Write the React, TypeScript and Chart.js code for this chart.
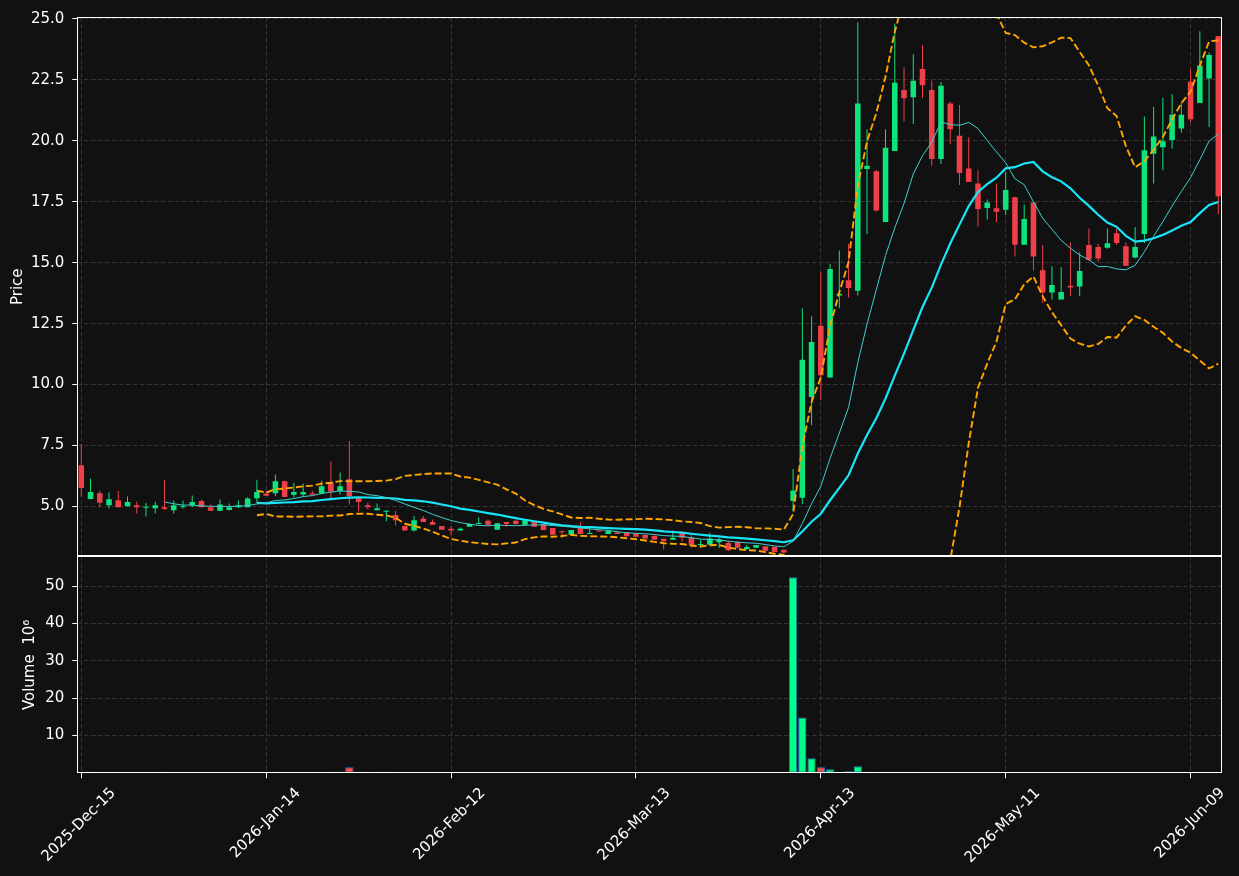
import { useEffect, useRef } from 'react';
import { Chart, registerables } from 'chart.js';

Chart.register(...registerables);

// ---------- data ----------
const HOLIDAYS = ['2025-12-25', '2026-01-01', '2026-01-19', '2026-02-16', '2026-04-03', '2026-05-25'];
const MONTHS = ['Jan', 'Feb', 'Mar', 'Apr', 'May', 'Jun', 'Jul', 'Aug', 'Sep', 'Oct', 'Nov', 'Dec'];
const START_DATE = '2025-12-15';
const N_DAYS = 124;

const opens = [
  6.69, 5.31, 5.54, 5.05, 5.26, 5.01, 5.05, 4.95, 4.93, 4.97,
  4.85, 4.97, 5.05, 5.22, 4.97, 4.82, 4.86, 4.97, 4.97, 5.34,
  5.52, 5.54, 6.03, 5.48, 5.49, 5.53, 5.54, 5.99, 5.63, 6.12,
  5.35, 5.05, 4.85, 4.78, 4.65, 4.20, 4.01, 4.51, 4.36, 4.20,
  4.09, 4.01, 4.17, 4.28, 4.41, 4.05, 4.36, 4.41, 4.25, 4.40,
  4.28, 4.12, 3.98, 3.84, 4.12, 3.87, 4.01, 3.87, 3.93, 3.95,
  3.87, 3.83, 3.79, 3.68, 3.63, 3.92, 3.72, 3.42, 3.43, 3.53,
  3.50, 3.54, 3.26, 3.31, 3.37, 3.35, 3.22, 5.22, 5.36, 9.49,
  12.41, 10.29, 13.66, 14.28, 13.85, 18.84, 18.75, 16.67, 19.58, 22.09,
  21.79, 22.95, 22.09, 19.25, 21.53, 20.21, 18.86, 18.25, 17.24, 17.23,
  17.17, 17.69, 15.74, 17.47, 14.69, 13.78, 13.49, 14.05, 14.02, 15.73,
  15.64, 15.61, 16.21, 15.68, 15.21, 16.18, 19.47, 19.74, 20.03, 20.51,
  22.42, 21.55, 22.56, 24.30,
];
const highs = [
  7.56, 6.14, 5.65, 5.57, 5.63, 5.41, 5.20, 5.14, 5.19, 6.10,
  5.24, 5.24, 5.45, 5.29, 5.08, 5.29, 5.12, 5.24, 5.38, 6.10,
  5.65, 6.31, 6.06, 5.97, 5.94, 5.65, 6.06, 6.84, 6.39, 7.69,
  5.35, 5.16, 5.12, 4.85, 4.81, 4.20, 4.61, 4.61, 4.47, 4.20,
  4.20, 4.14, 4.31, 4.56, 4.47, 4.31, 4.36, 4.47, 4.47, 4.40,
  4.28, 4.12, 4.01, 4.03, 4.36, 4.14, 4.01, 3.99, 4.01, 3.95,
  3.87, 3.83, 3.83, 3.68, 4.01, 3.92, 3.83, 3.64, 3.92, 3.71,
  3.58, 3.58, 3.42, 3.42, 3.37, 3.35, 3.22, 6.54, 13.13, 12.80,
  14.61, 14.95, 15.50, 15.78, 24.86, 20.48, 18.80, 20.48, 24.81, 23.02,
  23.55, 23.92, 22.48, 22.41, 21.60, 21.47, 20.15, 18.79, 17.59, 18.25,
  18.72, 17.70, 17.39, 17.47, 15.73, 14.85, 14.81, 15.83, 15.42, 16.40,
  15.78, 16.40, 16.40, 15.83, 16.46, 21.00, 21.40, 21.77, 21.92, 21.57,
  22.95, 24.50, 23.62, 24.30,
];
const lows = [
  5.41, 5.30, 4.97, 4.92, 4.97, 5.01, 4.71, 4.59, 4.71, 4.86,
  4.71, 4.92, 4.97, 4.97, 4.82, 4.80, 4.85, 4.95, 4.97, 5.14,
  5.44, 5.42, 5.39, 5.38, 5.42, 5.48, 5.49, 5.33, 5.49, 5.08,
  4.80, 4.88, 4.85, 4.39, 4.22, 4.01, 3.97, 4.36, 4.25, 4.05,
  3.82, 4.01, 4.17, 4.27, 4.20, 4.05, 4.17, 4.25, 4.20, 4.17,
  4.03, 3.84, 3.72, 3.84, 3.87, 3.87, 3.97, 3.87, 3.87, 3.78,
  3.76, 3.69, 3.63, 3.24, 3.63, 3.56, 3.33, 3.31, 3.41, 3.30,
  3.18, 3.28, 3.22, 3.31, 3.18, 3.13, 3.08, 4.80, 5.10, 8.33,
  9.36, 10.29, 13.13, 13.56, 13.66, 16.18, 17.10, 16.67, 19.58, 20.80,
  20.69, 21.76, 18.98, 19.05, 19.87, 18.19, 18.31, 16.49, 16.77, 16.67,
  16.97, 15.25, 15.74, 14.68, 13.35, 13.49, 13.49, 13.63, 13.63, 15.07,
  15.04, 15.57, 15.74, 14.88, 15.18, 15.81, 18.25, 18.79, 19.68, 20.33,
  20.76, 21.55, 20.57, 17.00,
];
const closes = [
  5.76, 5.59, 5.15, 5.30, 4.97, 5.18, 4.97, 4.97, 5.05, 4.90,
  5.05, 5.01, 5.18, 4.97, 4.82, 5.08, 4.97, 5.05, 5.33, 5.59,
  5.44, 6.03, 5.39, 5.59, 5.59, 5.48, 5.83, 5.61, 5.83, 5.42,
  5.18, 4.97, 4.93, 4.81, 4.43, 4.01, 4.44, 4.36, 4.25, 4.05,
  4.01, 4.09, 4.28, 4.32, 4.25, 4.31, 4.28, 4.28, 4.44, 4.17,
  4.03, 3.84, 3.94, 4.03, 3.87, 3.90, 3.97, 3.99, 3.87, 3.78,
  3.76, 3.69, 3.63, 3.57, 3.72, 3.72, 3.43, 3.45, 3.69, 3.65,
  3.20, 3.31, 3.34, 3.42, 3.18, 3.13, 3.11, 5.66, 11.02, 11.75,
  10.38, 14.74, 13.73, 13.96, 21.53, 18.98, 17.14, 19.72, 22.38, 21.75,
  22.46, 22.28, 19.25, 22.26, 20.47, 18.68, 18.31, 17.20, 17.47, 17.09,
  17.98, 15.74, 16.79, 15.25, 13.78, 14.09, 13.80, 13.98, 14.66, 15.12,
  15.17, 15.80, 15.81, 14.88, 15.64, 19.61, 20.18, 19.98, 21.07, 21.07,
  20.89, 23.09, 23.52, 17.73,
];
// volume in millions
const volumes = [
  0.3, 0.3, 0.03, 0.03, 0.03, 0.03, 0.03, 0.03, 0.03, 0.3,
  0.03, 0.03, 0.03, 0.03, 0.03, 0.03, 0.03, 0.03, 0.03, 0.03,
  0.03, 0.3, 0.03, 0.03, 0.03, 0.03, 0.03, 0.3, 0.3, 1.47,
  0.3, 0.03, 0.03, 0.3, 0.03, 0.03, 0.03, 0.03, 0.03, 0.03,
  0.03, 0.03, 0.03, 0.03, 0.03, 0.03, 0.03, 0.03, 0.03, 0.03,
  0.03, 0.03, 0.03, 0.03, 0.03, 0.03, 0.03, 0.03, 0.03, 0.03,
  0.03, 0.03, 0.03, 0.03, 0.03, 0.03, 0.03, 0.03, 0.03, 0.03,
  0.03, 0.03, 0.03, 0.03, 0.03, 0.03, 0.03, 52.4, 14.8, 3.87,
  1.47, 0.93, 0.3, 0.4, 1.73, 0.3, 0.03, 0.3, 0.3, 0.03,
  0.3, 0.03, 0.03, 0.03, 0.03, 0.03, 0.03, 0.03, 0.03, 0.03,
  0.03, 0.03, 0.03, 0.03, 0.03, 0.03, 0.03, 0.03, 0.03, 0.03,
  0.03, 0.03, 0.03, 0.03, 0.03, 0.03, 0.03, 0.03, 0.03, 0.03,
  0.03, 0.03, 0.03, 0.03,
];

const xTickIndices = [0, 20, 40, 60, 80, 100, 120];
const priceTicks = [5, 7.5, 10, 12.5, 15, 17.5, 20, 22.5, 25];
const volumeTicks = [10, 20, 30, 40, 50];

// ---------- helpers ----------
function buildDates(start: string, count: number): string[] {
  const hol = new Set(HOLIDAYS);
  const out: string[] = [];
  const d = new Date(start + 'T00:00:00Z');
  while (out.length < count) {
    const iso = d.toISOString().slice(0, 10);
    const wd = d.getUTCDay();
    if (wd !== 0 && wd !== 6 && !hol.has(iso)) {
      out.push(`${d.getUTCFullYear()}-${MONTHS[d.getUTCMonth()]}-${String(d.getUTCDate()).padStart(2, '0')}`);
    }
    d.setUTCDate(d.getUTCDate() + 1);
  }
  return out;
}

function movingAvg(vals: number[], p: number): (number | null)[] {
  return vals.map((_, i) => {
    if (i < p - 1) return null;
    let s = 0;
    for (let k = i - p + 1; k <= i; k++) s += vals[k];
    return s / p;
  });
}

function movingStd(vals: number[], p: number): (number | null)[] {
  return vals.map((_, i) => {
    if (i < p - 1) return null;
    let s = 0;
    for (let k = i - p + 1; k <= i; k++) s += vals[k];
    const m = s / p;
    let v = 0;
    for (let k = i - p + 1; k <= i; k++) v += (vals[k] - m) * (vals[k] - m);
    return Math.sqrt(v / (p - 1));
  });
}

const BG = '#111111';
const GRID = '#3c3c3c';
const TXT = '#ffffff';
const FONT = { family: 'DejaVu Sans', size: 15 };
const UP = '#0ee37c';
const DOWN = '#ee4049';
const VUP = '#00ff88';
const VDOWN = '#ff5050';

export default function App() {
  const ref = useRef<HTMLCanvasElement>(null);

  useEffect(() => {
    document.body.style.background = BG;
    const canvas = ref.current as HTMLCanvasElement;
    const dates = buildDates(START_DATE, N_DAYS);
    const idx = closes.map((_, i) => i);
    const isUp = idx.map((i) => closes[i] >= opens[i]);
    const candleCol = isUp.map((u) => (u ? UP : DOWN));
    const volCol = isUp.map((u) => (u ? VUP : VDOWN));
    const ma10 = movingAvg(closes, 10);
    const ma20 = movingAvg(closes, 20);
    const sd20 = movingStd(closes, 20);
    const bbUp = ma20.map((m, i) => (m === null ? null : m + 2 * (sd20[i] as number)));
    const bbLo = ma20.map((m, i) => (m === null ? null : m - 2 * (sd20[i] as number)));

    const pts = (arr: (number | null)[]) => idx.map((i) => ({ x: i, y: arr[i] }));

    const bgPlugin = {
      id: 'bg',
      beforeDraw(chart: any) {
        const c = chart.ctx;
        c.save();
        c.fillStyle = BG;
        c.fillRect(0, 0, chart.width, chart.height);
        c.restore();
      },
    };

    const panelClip = {
      id: 'panelClip',
      beforeDatasetDraw(chart: any, args: any) {
        const ys = chart.scales[args.meta.yAxisID];
        const xs = chart.scales.x;
        const c = chart.ctx;
        c.save();
        c.beginPath();
        c.rect(xs.left, ys.top, xs.right - xs.left, ys.bottom - ys.top);
        c.clip();
      },
      afterDatasetDraw(chart: any) {
        chart.ctx.restore();
      },
    };

    const frames = {
      id: 'frames',
      afterDraw(chart: any) {
        const c = chart.ctx;
        const xs = chart.scales.x;
        c.save();
        c.strokeStyle = '#ffffff';
        c.lineWidth = 1;
        ['y', 'yv'].forEach((id) => {
          const s = chart.scales[id];
          const l = Math.round(xs.left) + 0.5;
          const r = Math.round(xs.right) - 0.5;
          const t = Math.round(s.top) + 0.5;
          const b = Math.round(s.bottom) - 0.5;
          c.strokeRect(l, t, r - l, b - t);
        });
        c.restore();
      },
    };

    const lineCommon = { type: 'line', yAxisID: 'y', pointRadius: 0, tension: 0, order: 0 };

    const chart = new Chart(canvas, {
      type: 'bar',
      data: {
        datasets: [
          { ...lineCommon, label: 'MA10', data: pts(ma10), borderColor: '#3fcfcf', borderWidth: 1 },
          { ...lineCommon, label: 'MA20', data: pts(ma20), borderColor: '#16e6f8', borderWidth: 2.2 },
          { ...lineCommon, label: 'BB upper', data: pts(bbUp), borderColor: '#ffa500', borderWidth: 1.9, borderDash: [7, 3] },
          { ...lineCommon, label: 'BB lower', data: pts(bbLo), borderColor: '#ffa500', borderWidth: 1.9, borderDash: [7, 3] },
          {
            type: 'bar',
            label: 'body',
            data: idx.map((i) => ({ x: i, y: [opens[i], closes[i]] })),
            yAxisID: 'y',
            backgroundColor: candleCol,
            borderWidth: 0,
            grouped: false,
            barPercentage: 0.6,
            categoryPercentage: 1,
            minBarLength: 1,
            order: 2,
          },
          {
            type: 'bar',
            label: 'wick',
            data: idx.map((i) => ({ x: i, y: [lows[i], highs[i]] })),
            yAxisID: 'y',
            backgroundColor: candleCol,
            borderWidth: 0,
            grouped: false,
            barThickness: 1,
            inflateAmount: 0,
            order: 3,
          },
          {
            type: 'bar',
            label: 'Volume',
            data: idx.map((i) => ({ x: i, y: volumes[i] })),
            yAxisID: 'yv',
            backgroundColor: volCol,
            borderColor: '#2a78bd',
            borderWidth: 1,
            borderSkipped: false,
            grouped: false,
            barPercentage: 0.9,
            categoryPercentage: 1,
            order: 4,
          },
        ] as any,
      },
      options: {
        animation: false,
        responsive: false,
        devicePixelRatio: 1,
        events: [],
        layout: { padding: { left: 0, top: 13.7, right: 16.7, bottom: 0 } },
        plugins: { legend: { display: false }, tooltip: { enabled: false } },
        scales: {
          yv: {
            type: 'linear',
            position: 'left',
            stack: 'panels',
            stackWeight: 217.8,
            min: -0.13,
            max: 57.95,
            afterBuildTicks: (s: any) => {
              s.ticks = volumeTicks.map((v) => ({ value: v }));
            },
            afterFit: (s: any) => {
              s.width = 77.3;
            },
            ticks: { color: TXT, font: FONT, padding: 8, callback: (v: any) => String(v) },
            grid: { color: GRID, lineWidth: 0.8, tickColor: '#ffffff', tickLength: 5, tickWidth: 1 },
            border: { display: false, dash: [4.5, 2.5] },
            title: { display: true, text: 'Volume  10\u2076', color: TXT, font: FONT, padding: { top: 21, bottom: 0 } },
          },
          y: {
            type: 'linear',
            position: 'left',
            stack: 'panels',
            stackWeight: 541.8,
            min: 2.95,
            max: 25.08,
            afterBuildTicks: (s: any) => {
              s.ticks = priceTicks.map((v) => ({ value: v }));
            },
            afterFit: (s: any) => {
              s.width = 77.3;
            },
            ticks: { color: TXT, font: FONT, padding: 8, callback: (v: any) => Number(v).toFixed(1) },
            grid: { color: GRID, lineWidth: 0.8, tickColor: '#ffffff', tickLength: 5, tickWidth: 1 },
            border: { display: false, dash: [4.5, 2.5] },
            title: { display: true, text: 'Price', color: TXT, font: FONT, padding: { top: 9.3, bottom: 0 } },
          },
          x: {
            type: 'linear',
            position: 'bottom',
            offset: false,
            min: -0.43,
            max: 123.43,
            afterBuildTicks: (s: any) => {
              s.ticks = xTickIndices.map((v) => ({ value: v }));
            },
            afterFit: (s: any) => {
              s.height = 102.7;
            },
            ticks: {
              color: TXT,
              font: FONT,
              autoSkip: false,
              minRotation: 45,
              maxRotation: 45,
              padding: 6,
              labelOffset: 32,
              callback: (v: any) => dates[Math.round(Number(v))] ?? '',
            },
            grid: { offset: false, color: GRID, lineWidth: 0.8, tickColor: '#ffffff', tickLength: 5, tickWidth: 1 },
            border: { display: false, dash: [4.5, 2.5] },
          },
        },
      } as any,
      plugins: [bgPlugin, panelClip, frames],
    });

    return () => chart.destroy();
  }, []);

  return (
    <canvas
      ref={ref}
      width={1239}
      height={876}
      style={{ position: 'absolute', left: 0, top: 0, width: 1239, height: 876, display: 'block' }}
    />
  );
}
